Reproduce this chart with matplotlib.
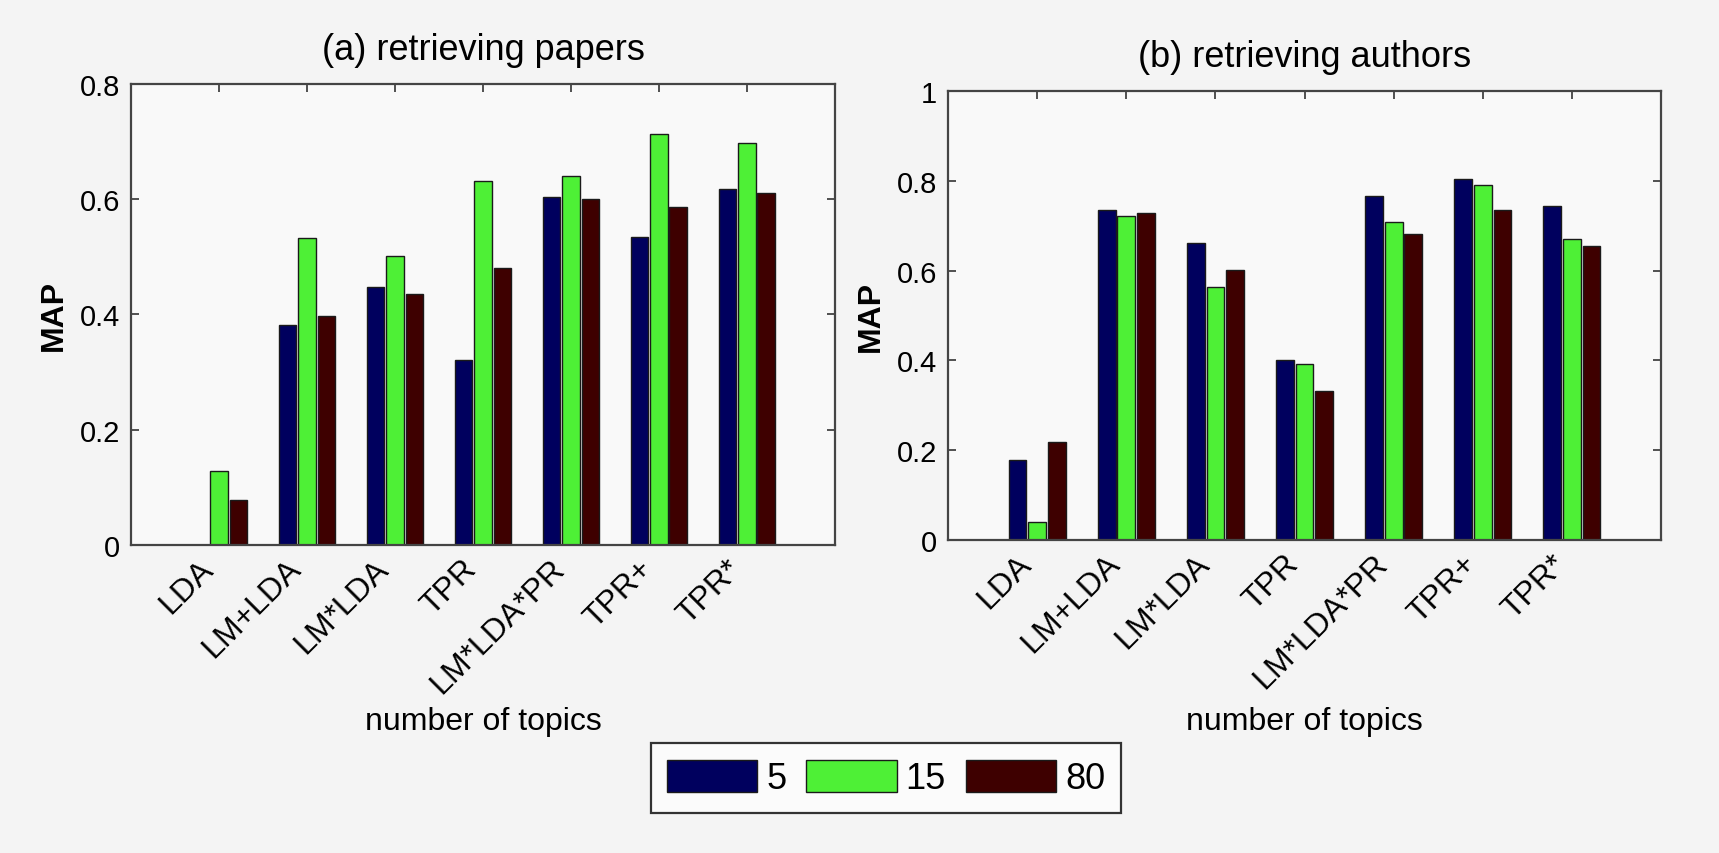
import numpy as np
import matplotlib
matplotlib.use('Agg')
import matplotlib.pyplot as plt

plt.rcParams['font.family'] = ['Liberation Sans', 'DejaVu Sans']

# methods on the x axis, one group of bars each
methods = ['LDA', 'LM+LDA', 'LM*LDA', 'TPR', 'LM*LDA*PR', 'TPR+', 'TPR*']
topic_counts = ['5', '15', '80']

# MAP when retrieving papers, per number of topics
papers_5 = [0.0, 0.382, 0.448, 0.321, 0.603, 0.534, 0.617]
papers_15 = [0.128, 0.533, 0.501, 0.631, 0.641, 0.714, 0.697]
papers_80 = [0.078, 0.397, 0.436, 0.481, 0.600, 0.587, 0.610]

# MAP when retrieving authors, per number of topics
authors_5 = [0.178, 0.736, 0.661, 0.400, 0.767, 0.803, 0.744]
authors_15 = [0.041, 0.722, 0.564, 0.393, 0.709, 0.791, 0.670]
authors_80 = [0.218, 0.729, 0.601, 0.331, 0.682, 0.736, 0.654]

papers_yticks = [0, 0.2, 0.4, 0.6, 0.8]
papers_ylabels = ['0', '0.2', '0.4', '0.6', '0.8']
authors_yticks = [0, 0.2, 0.4, 0.6, 0.8, 1.0]
authors_ylabels = ['0', '0.2', '0.4', '0.6', '0.8', '1']

colors = ['#00005e', '#4ef036', '#3e0000']
bg = '#f4f4f4'


def draw_panel(ax, series, title, yticks, ylabels, ymax):
    x = np.arange(1, len(methods) + 1)
    offsets = [-0.22, 0.0, 0.22]
    bars = []
    for vals, off, col, lab in zip(series, offsets, colors, topic_counts):
        b = ax.bar(x + off, vals, width=0.2, color=col, edgecolor='#1a1a1a',
                   linewidth=1.0, label=lab, zorder=2)
        bars.append(b)
    ax.set_xlim(0, 8)
    ax.set_ylim(0, ymax)
    ax.set_facecolor('#f9f9f9')
    ax.set_xticks(x)
    ax.set_xticklabels(methods, rotation=45, ha='right', va='top', fontsize=23)
    ax.set_yticks(yticks)
    ax.set_yticklabels(ylabels, fontsize=21)
    ax.tick_params(direction='in', length=6, width=1.2, top=True, right=True,
                   color='#333333', pad=8)
    ax.tick_params(axis='x', pad=6)
    for sp in ax.spines.values():
        sp.set_linewidth(1.6)
        sp.set_color('#444444')
    ax.set_title(title, fontsize=26, pad=18)
    ax.set_ylabel('MAP', fontsize=23, fontweight='bold')
    ax.set_xlabel('number of topics', fontsize=23)
    return bars


fig = plt.figure(figsize=(17.19, 8.54), dpi=100, facecolor=bg)

ax1 = fig.add_axes([0.0762, 0.3607, 0.4095, 0.5398])
bars = draw_panel(ax1, [papers_5, papers_15, papers_80], '(a) retrieving papers',
                  papers_yticks, papers_ylabels, 0.8)
ax1.yaxis.set_label_coords(-0.088, 0.5)
ax1.xaxis.set_label_coords(0.5, -0.35)

ax2 = fig.add_axes([0.5515, 0.3665, 0.4148, 0.5258])
draw_panel(ax2, [authors_5, authors_15, authors_80], '(b) retrieving authors',
           authors_yticks, authors_ylabels, 1.0)
ax2.yaxis.set_label_coords(-0.087, 0.5)
ax2.xaxis.set_label_coords(0.5, -0.37)

leg = fig.legend(handles=bars, labels=topic_counts, loc='center',
                 bbox_to_anchor=(886 / 1719, 1 - 779 / 854), ncol=3, fontsize=26,
                 handlelength=2.5, handleheight=1.0, handletextpad=0.25,
                 columnspacing=0.55, borderpad=0.45, fancybox=False,
                 framealpha=1.0)
leg.get_frame().set_edgecolor('#333333')
leg.get_frame().set_linewidth(1.6)
leg.get_frame().set_facecolor('#fbfbfb')

fig.savefig('out.png', dpi=100, facecolor=bg)
